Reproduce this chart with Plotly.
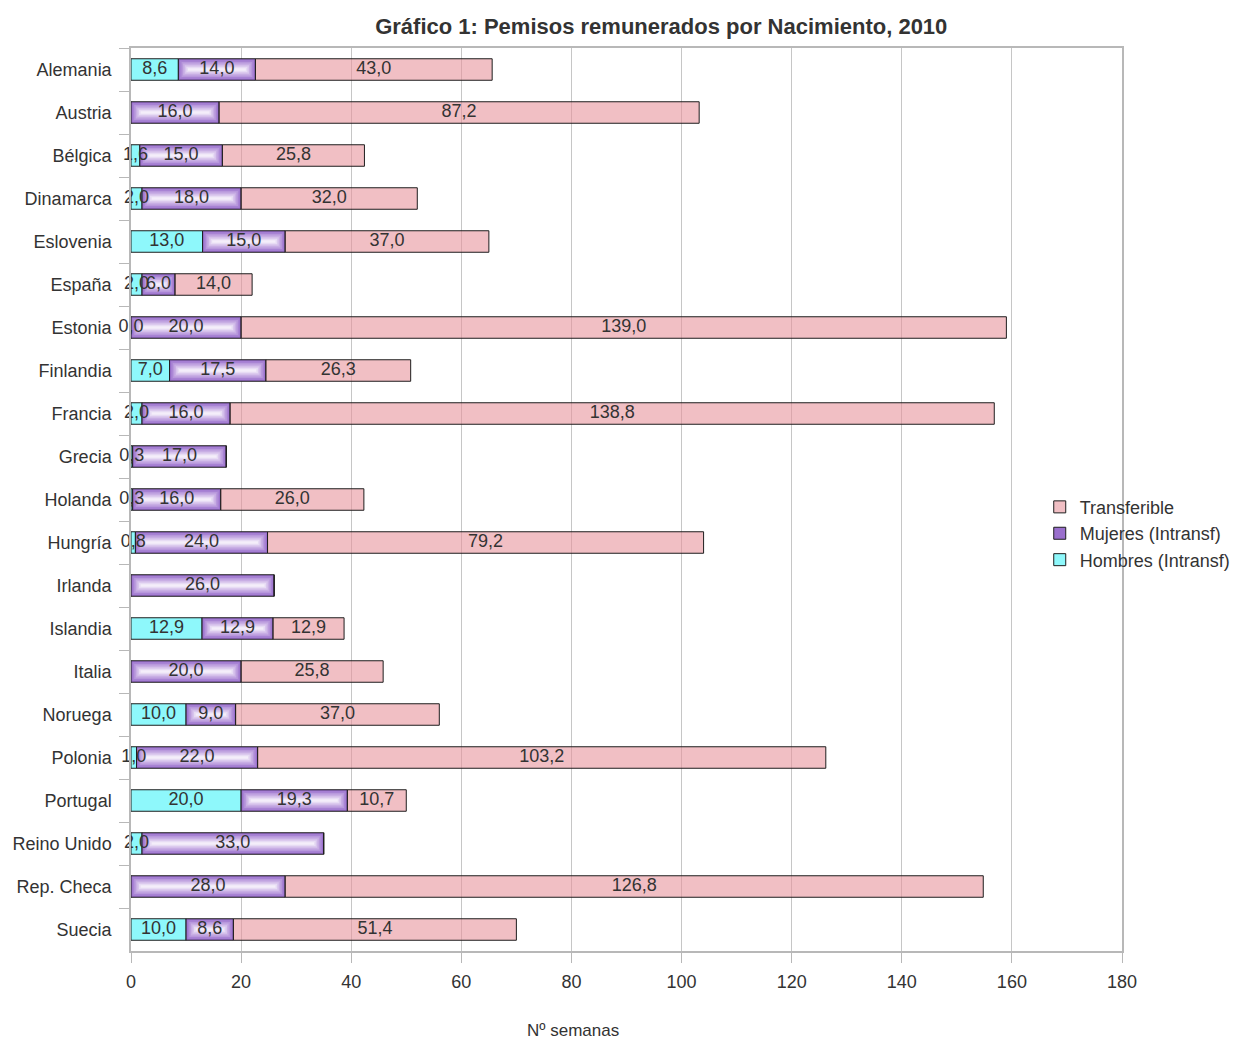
import plotly.graph_objects as go

# Paid leave per birth, 2010 (weeks)
paises = ["Alemania", "Austria", "Bélgica", "Dinamarca", "Eslovenia", "España",
          "Estonia", "Finlandia", "Francia", "Grecia", "Holanda", "Hungría",
          "Irlanda", "Islandia", "Italia", "Noruega", "Polonia", "Portugal",
          "Reino Unido", "Rep. Checa", "Suecia"]
hombres = [8.6, None, 1.6, 2.0, 13.0, 2.0, 0.0, 7.0, 2.0, 0.3, 0.3, 0.8,
           None, 12.9, None, 10.0, 1.0, 20.0, 2.0, None, 10.0]
mujeres = [14.0, 16.0, 15.0, 18.0, 15.0, 6.0, 20.0, 17.5, 16.0, 17.0, 16.0, 24.0,
           26.0, 12.9, 20.0, 9.0, 22.0, 19.3, 33.0, 28.0, 8.6]
transferible = [43.0, 87.2, 25.8, 32.0, 37.0, 14.0, 139.0, 26.3, 138.8, None, 26.0, 79.2,
                None, 12.9, 25.8, 37.0, 103.2, 10.7, None, 126.8, 51.4]
x_ticks = [0, 20, 40, 60, 80, 100, 120, 140, 160, 180]

TEXT = "#333333"
FONT = "Liberation Sans"
OUTLINE = "#1e1e1e"
BAR_W = 0.5

# plot geometry used to turn pixel insets into axis units
PLOT_W_PX, PLOT_H_PX = 991, 903
X_MAX = 180
ux = X_MAX / PLOT_W_PX                  # axis units per px (x)
uy = len(paises) / PLOT_H_PX            # category units per px (y)


def val(v):
    return 0.0 if v is None else v


def fmt(v):
    return f"{v:.1f}".replace(".", ",")


h0 = [val(v) for v in hombres]
m0 = [val(v) for v in mujeres]
base_t = [a + b for a, b in zip(h0, m0)]

fig = go.Figure()

# Hombres (intransferible)
fig.add_trace(go.Bar(
    y=paises, x=h0, base=[0] * len(paises), orientation="h", width=BAR_W,
    name="Hombres (Intransf)", legendrank=3,
    marker=dict(color="#8ef8fb", line=dict(color=OUTLINE, width=1)),
))

# Mujeres (intransferible) with a bevelled lavender gradient built from nested bars
fig.add_trace(go.Bar(
    y=paises, x=m0, base=h0, orientation="h", width=BAR_W,
    name="Mujeres (Intransf)", legendrank=2,
    marker=dict(color="#9a6fcd", line=dict(color=OUTLINE, width=1)),
))
shades = ["#a883d4", "#b898dc", "#c8aee4", "#d8c5ed", "#e7dcf4", "#f4eefa"]
for k, col in enumerate(shades, start=1):
    inset = 1.6 * k
    fig.add_trace(go.Bar(
        y=paises,
        x=[max(m - 2 * inset * ux, 0) for m in m0],
        base=[h + inset * ux for h in h0],
        orientation="h", width=BAR_W - 2 * inset * uy,
        marker=dict(color=col, line=dict(width=0)),
        showlegend=False, hoverinfo="skip",
    ))

# Transferible
fig.add_trace(go.Bar(
    y=paises, x=[val(v) for v in transferible], base=base_t, orientation="h", width=BAR_W,
    name="Transferible", legendrank=1,
    marker=dict(color="rgba(231,148,156,0.6)", line=dict(color=OUTLINE, width=1)),
))

# value labels centred in each segment
lx, ly, lt = [], [], []
for i, p in enumerate(paises):
    if hombres[i] is not None:
        lx.append(h0[i] / 2); ly.append(p); lt.append(fmt(hombres[i]))
    if mujeres[i] is not None:
        lx.append(h0[i] + m0[i] / 2); ly.append(p); lt.append(fmt(mujeres[i]))
    if transferible[i] is not None:
        lx.append(base_t[i] + transferible[i] / 2); ly.append(p); lt.append(fmt(transferible[i]))
fig.add_trace(go.Scatter(
    x=lx, y=ly, text=lt, mode="text", textposition="middle center",
    textfont=dict(family=FONT, size=18, color=TEXT),
    showlegend=False, hoverinfo="skip", cliponaxis=False,
))

fig.update_layout(
    width=1236, height=1039,
    margin=dict(l=131, r=114, t=48, b=88, autoexpand=False),
    paper_bgcolor="white", plot_bgcolor="white",
    barmode="overlay",
    font=dict(family=FONT, size=17, color=TEXT),
    title=dict(
        text="<b>Gráfico 1: Pemisos remunerados por Nacimiento, 2010</b>",
        x=0.535, xanchor="center", y=1 - 26 / 1039, yanchor="middle",
        font=dict(family=FONT, size=22, color=TEXT),
    ),
    legend=dict(
        x=0.917, xanchor="left", y=0.512, yanchor="top",
        bgcolor="rgba(0,0,0,0)", borderwidth=0,
        font=dict(family=FONT, size=18, color=TEXT),
    ),
    showlegend=True,
)

fig.update_xaxes(
    range=[0, X_MAX], tickvals=x_ticks, ticktext=[str(t) for t in x_ticks],
    showgrid=True, gridcolor="#c6c6c6", gridwidth=1,
    showline=True, linecolor="#b8b8b8", linewidth=1.5, mirror=True,
    ticks="outside", ticklen=10, tickcolor="#b8b8b8", ticklabelstandoff=4,
    zeroline=False, tickfont=dict(size=18, color=TEXT),
)
fig.update_yaxes(
    categoryorder="array", categoryarray=paises,
    range=[len(paises) - 0.5, -0.5],
    showgrid=False, showline=True, linecolor="#b8b8b8", linewidth=1.5, mirror=True,
    ticks="outside", ticklen=10, tickcolor="#b8b8b8", tickson="boundaries",
    ticklabelstandoff=14, tickfont=dict(size=18, color=TEXT),
)

fig.add_annotation(
    text="Nº semanas", xref="paper", yref="paper",
    x=(573 - 131) / PLOT_W_PX, y=(951 - 1030) / PLOT_H_PX,
    xanchor="center", yanchor="middle", showarrow=False,
    font=dict(family=FONT, size=17, color=TEXT),
)

fig.write_html("out.html")
